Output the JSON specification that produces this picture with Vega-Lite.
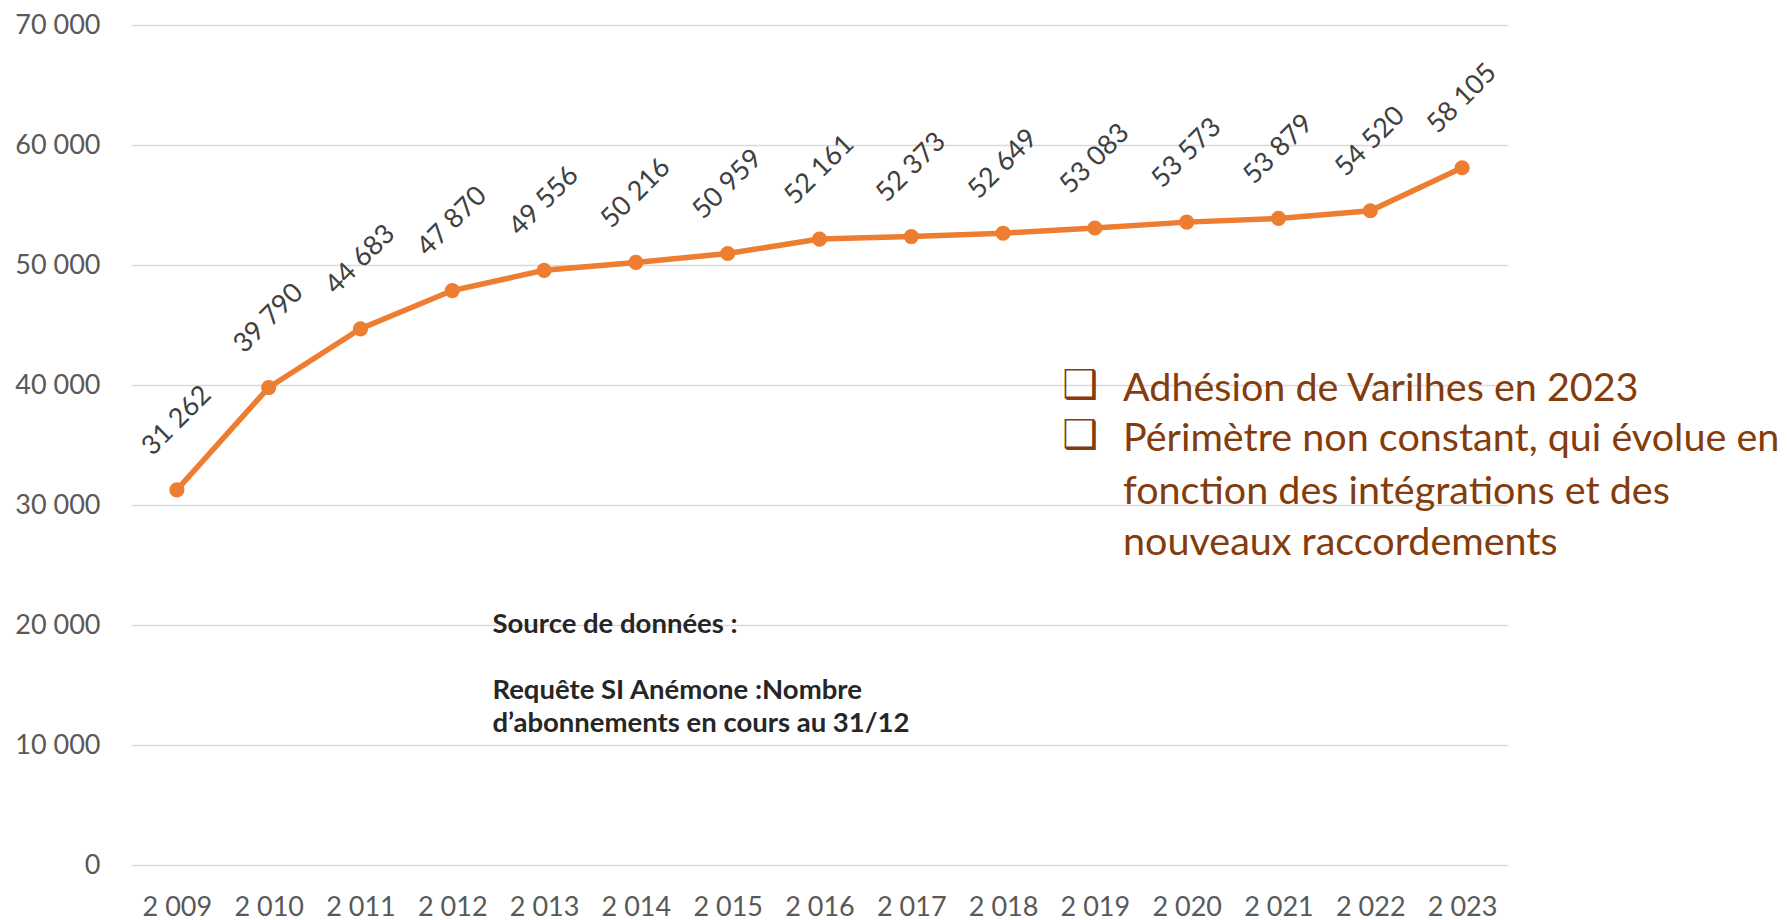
{
  "$schema": "https://vega.github.io/schema/vega-lite/v6.json",
  "width": 1377,
  "height": 840,
  "autosize": {"type": "none"},
  "padding": {"left": 131, "top": 25, "right": 279, "bottom": 55},
  "background": "white",
  "config": {
    "locale": {"number": {"decimal": ",", "thousands": " ", "grouping": [3], "currency": ["", " €"]}},
    "view": {"stroke": null},
    "font": "Lato"
  },
  "datasets": {
    "abonnements": [
      {"annee": 2009, "abonnements": 31262},
      {"annee": 2010, "abonnements": 39790},
      {"annee": 2011, "abonnements": 44683},
      {"annee": 2012, "abonnements": 47870},
      {"annee": 2013, "abonnements": 49556},
      {"annee": 2014, "abonnements": 50216},
      {"annee": 2015, "abonnements": 50959},
      {"annee": 2016, "abonnements": 52161},
      {"annee": 2017, "abonnements": 52373},
      {"annee": 2018, "abonnements": 52649},
      {"annee": 2019, "abonnements": 53083},
      {"annee": 2020, "abonnements": 53573},
      {"annee": 2021, "abonnements": 53879},
      {"annee": 2022, "abonnements": 54520},
      {"annee": 2023, "abonnements": 58105}
    ],
    "notes": [
      {"kind": "bullet", "annee": 2018.84, "abonnements": 39900, "t": "❑"},
      {"kind": "bullet", "annee": 2018.84, "abonnements": 35733, "t": "❑"},
      {"kind": "legend", "annee": 2019.306, "abonnements": 38700, "t": "Adhésion de Varilhes en 2023"},
      {"kind": "legend", "annee": 2019.306, "abonnements": 34530, "t": "Périmètre non constant, qui évolue en"},
      {"kind": "legend", "annee": 2019.306, "abonnements": 30110, "t": "fonction des intégrations et des"},
      {"kind": "legend", "annee": 2019.306, "abonnements": 25860, "t": "nouveaux raccordements"},
      {"kind": "source", "annee": 2012.437, "abonnements": 19375, "t": "Source de données :"},
      {"kind": "source", "annee": 2012.437, "abonnements": 13867, "t": "Requête SI Anémone :Nombre"},
      {"kind": "source", "annee": 2012.437, "abonnements": 11108, "t": "d’abonnements en cours au 31/12"}
    ]
  },
  "encoding": {
    "x": {
      "field": "annee", "type": "quantitative",
      "scale": {"domain": [2008.5, 2023.5], "nice": false, "zero": false},
      "axis": {
        "title": null, "values": [2009, 2010, 2011, 2012, 2013, 2014, 2015, 2016, 2017, 2018, 2019, 2020, 2021, 2022, 2023],
        "format": ",d", "grid": false, "domain": false, "ticks": false,
        "labelFont": "Lato", "labelFontSize": 27, "labelColor": "#595959", "labelPadding": 29,
        "labelFlush": false, "labelOverlap": false
      }
    },
    "y": {
      "field": "abonnements", "type": "quantitative",
      "scale": {"domain": [0, 70000], "nice": false},
      "axis": {
        "title": null, "values": [0, 10000, 20000, 30000, 40000, 50000, 60000, 70000],
        "format": ",d", "grid": true, "gridColor": "#D9D9D9", "gridWidth": 1.5,
        "domain": false, "ticks": false,
        "labelFont": "Lato", "labelFontSize": 27, "labelColor": "#595959", "labelPadding": 31
      }
    }
  },
  "layer": [
    {
      "data": {"name": "abonnements"},
      "mark": {"type": "line", "color": "#ED7D31", "strokeWidth": 5.5},
      "encoding": {}
    },
    {
      "data": {"name": "abonnements"},
      "mark": {"type": "point", "filled": true, "color": "#ED7D31", "size": 230, "opacity": 1},
      "encoding": {}
    },
    {
      "data": {"name": "abonnements"},
      "mark": {"type": "text", "angle": -45, "radius": 69, "theta": 0, "align": "center", "baseline": "middle", "font": "Lato", "fontSize": 27, "color": "#404040"},
      "encoding": {"text": {"field": "abonnements", "type": "quantitative", "format": ",d"}}
    },
    {
      "data": {"name": "notes"},
      "transform": [{"filter": "datum.kind === 'bullet'"}],
      "mark": {"type": "text", "align": "center", "baseline": "middle", "font": "DejaVu Sans", "fontSize": 40, "fontWeight": "bold", "color": "#843C0C"},
      "encoding": {"text": {"field": "t", "type": "nominal"}}
    },
    {
      "data": {"name": "notes"},
      "transform": [{"filter": "datum.kind === 'legend'"}],
      "mark": {"type": "text", "align": "left", "baseline": "alphabetic", "font": "Lato", "fontSize": 39.5, "color": "#843C0C"},
      "encoding": {"text": {"field": "t", "type": "nominal"}}
    },
    {
      "data": {"name": "notes"},
      "transform": [{"filter": "datum.kind === 'source'"}],
      "mark": {"type": "text", "align": "left", "baseline": "alphabetic", "font": "Lato", "fontSize": 27.5, "fontWeight": "bold", "color": "#262626"},
      "encoding": {"text": {"field": "t", "type": "nominal"}}
    }
  ]
}
